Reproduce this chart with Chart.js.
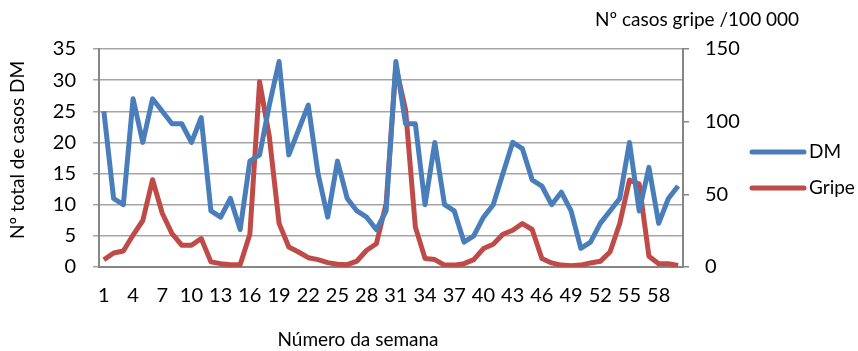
<!DOCTYPE html>
<html>
<head>
<meta charset="utf-8">
<script src="https://cdn.jsdelivr.net/npm/chart.js@4/dist/chart.umd.min.js"></script>
<style>
  body { margin: 0; background: #fff; }
  #wrap { width: 858px; height: 351px; }
</style>
</head>
<body>
<div id="wrap"><canvas id="chart" width="858" height="351"></canvas></div>
<script>
// week numbers 1..60
const weeks = [];
for (let i = 1; i <= 60; i++) weeks.push(String(i));

// total DM cases (left axis)
const dmCases = [25, 11, 10, 27, 20, 27, 25, 23, 23, 20,
  24, 9, 8, 11, 6, 17, 18, 26, 33, 18,
  22, 26, 15, 8, 17, 11, 9, 8, 6, 9,
  33, 23, 23, 10, 20, 10, 9, 4, 5, 8,
  10, 15, 20, 19, 14, 13, 10, 12, 9, 3,
  4, 7, 9, 11, 20, 9, 16, 7, 11, 13];

// flu cases per 100 000 (right axis)
const gripeRate = [5, 9.6, 11, 22, 32, 60, 37, 23, 15, 15,
  19.6, 3.5, 2.3, 1.6, 1.6, 22.5, 127.5, 89.6, 30, 13.8,
  10.3, 6.4, 5.1, 3, 1.9, 1.6, 4.1, 11.5, 16, 43.7,
  137.8, 108, 27.6, 5.8, 5.1, 1.3, 1.3, 2.3, 5.1, 12.7,
  15.6, 22.5, 25.3, 29.9, 25.8, 5.8, 2.8, 1.3, 0.8, 1.3,
  2.8, 3.9, 10.3, 29.9, 59.8, 57, 7.4, 2.3, 2.3, 1];

const leftTicks = [0, 5, 10, 15, 20, 25, 30, 35];
const rightTicks = [0, 50, 100, 150];

const BLUE = '#4a7ebb';
const RED = '#be4b48';
const FONT = 'Lato, "Open Sans", sans-serif';

// axis titles + legend drawn on top
const extras = {
  id: 'extras',
  afterDraw(chart) {
    const ctx = chart.ctx;
    ctx.save();
    ctx.fillStyle = '#000';
    ctx.font = '19px ' + FONT;
    ctx.textBaseline = 'middle';

    ctx.textAlign = 'center';
    ctx.fillText('Número da semana', 358, 340);

    ctx.textAlign = 'left';
    ctx.fillText('Nº casos gripe /100 000', 595, 20);

    ctx.save();
    ctx.translate(18, 150);
    ctx.rotate(-Math.PI / 2);
    ctx.textAlign = 'center';
    ctx.fillText('Nº total de casos DM', 0, 0);
    ctx.restore();

    // legend
    const items = [['DM', BLUE, 152], ['Gripe', RED, 188]];
    ctx.lineWidth = 5;
    ctx.lineCap = 'round';
    items.forEach(([label, color, y]) => {
      ctx.strokeStyle = color;
      ctx.beginPath();
      ctx.moveTo(752, y);
      ctx.lineTo(804, y);
      ctx.stroke();
      ctx.fillText(label, 809, y);
    });
    ctx.restore();
  }
};

new Chart(document.getElementById('chart'), {
  type: 'line',
  data: {
    labels: weeks,
    datasets: [{
      label: 'DM',
      data: dmCases,
      yAxisID: 'y',
      borderColor: BLUE,
      borderWidth: 5,
      borderJoinStyle: 'round',
      pointRadius: 0,
      tension: 0,
    }, {
      label: 'Gripe',
      data: gripeRate,
      yAxisID: 'y1',
      borderColor: RED,
      borderWidth: 5,
      borderJoinStyle: 'round',
      pointRadius: 0,
      tension: 0,
    }],
  },
  options: {
    responsive: false,
    animation: false,
    layout: { padding: { top: 49, left: 0, right: 0, bottom: 0 } },
    plugins: { legend: { display: false }, tooltip: { enabled: false } },
    scales: {
      x: {
        offset: true,
        grid: { display: false, drawTicks: false },
        border: { color: '#868686', width: 2 },
        ticks: {
          autoSkip: false,
          maxRotation: 0,
          padding: 17,
          color: '#000',
          font: { family: FONT, size: 20 },
          callback: (v, i) => (i % 3 === 0 ? weeks[i] : ''),
        },
        afterFit: (s) => { s.height = 84; },
      },
      y: {
        position: 'left',
        min: 0,
        max: 35,
        afterBuildTicks: (s) => { s.ticks = leftTicks.map(v => ({ value: v })); },
        grid: { color: '#a5a5a5', lineWidth: 1.5, tickLength: 6 },
        border: { color: '#868686', width: 2 },
        ticks: { padding: 17, color: '#000', font: { family: FONT, size: 20 } },
        afterFit: (s) => { s.width = 99; },
      },
      y1: {
        position: 'right',
        min: 0,
        max: 150,
        afterBuildTicks: (s) => { s.ticks = rightTicks.map(v => ({ value: v })); },
        grid: { drawOnChartArea: false, color: '#868686', lineWidth: 1.5, tickLength: 6 },
        border: { color: '#868686', width: 2 },
        ticks: { padding: 16, color: '#000', font: { family: FONT, size: 20 } },
        afterFit: (s) => { s.width = 175; },
      },
    },
  },
  plugins: [extras],
});
</script>
</body>
</html>
